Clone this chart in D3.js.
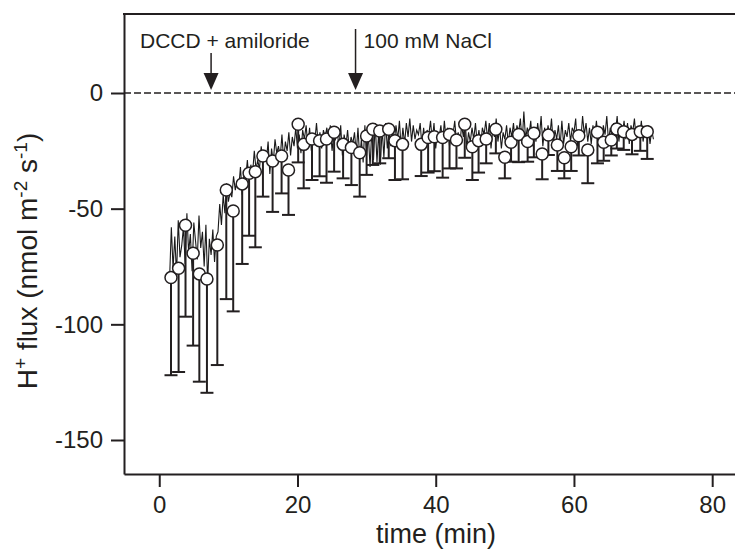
<!DOCTYPE html>
<html>
<head>
<meta charset="utf-8">
<script src="https://cdn.jsdelivr.net/npm/d3@7"></script>
<style>
  body { margin: 0; background: #fff; }
  text { font-family: "Liberation Sans", Arial, sans-serif; fill: #231f20; }
</style>
</head>
<body>
<svg id="chart" width="735" height="552"></svg>
<script>
// mean H+ flux (circles) with lower error bars
var sampleTime = [1.7, 2.8, 3.8, 4.9, 5.8, 6.9, 8.4, 9.7, 10.7, 12.0,
    13.0, 13.9, 15.0, 16.4, 17.7, 18.7, 20.1, 20.9, 22.1, 23.2,
    24.2, 25.3, 26.6, 27.8, 29.0, 30.0, 30.9, 31.9, 33.2, 34.1,
    35.2, 37.9, 38.9, 39.8, 41.0, 42.0, 43.0, 44.2, 45.3, 46.2,
    47.3, 48.7, 50.0, 50.9, 52.0, 53.3, 54.2, 55.4, 56.3, 57.6,
    58.6, 59.6, 60.7, 62.0, 63.4, 64.3, 65.4, 66.2, 67.2, 68.4,
    69.6, 70.6];
var meanFlux = [-79.8, -75.8, -57.2, -69.3, -78.2, -80.4, -65.7, -41.9, -51.0, -39.3,
    -34.7, -34.0, -27.2, -29.4, -27.2, -33.3, -13.5, -22.2, -19.9, -20.6,
    -19.9, -17.0, -22.2, -23.6, -25.8, -18.6, -15.7, -16.4, -15.7, -20.6,
    -22.2, -22.2, -19.2, -18.9, -19.2, -17.9, -20.3, -13.5, -23.2, -20.6,
    -19.9, -15.7, -27.8, -21.3, -17.9, -21.0, -17.4, -26.4, -18.2, -22.5,
    -28.0, -23.2, -18.5, -24.6, -17.0, -21.3, -20.3, -15.6, -16.7, -17.9,
    -16.7, -16.7];
var errFlux = [42.2, 44.8, 39.5, 39.9, 46.6, 49.2, 51.9, 47.2, 43.4, 34.6,
    27.0, 32.7, 17.6, 22.0, 16.2, 19.4, 16.5, 19.0, 17.7, 15.4,
    18.9, 17.0, 14.7, 16.2, 19.0, 16.8, 15.4, 14.0, 12.5, 17.0,
    15.1, 13.7, 15.2, 14.9, 17.4, 14.7, 12.3, 14.5, 14.4, 13.8,
    10.5, 10.4, 9.1, 8.4, 12.0, 8.7, 10.4, 10.9, 8.6, 11.2,
    8.9, 10.5, 8.5, 14.4, 13.4, 8.0, 6.7, 8.4, 7.9, 8.6,
    8.3, 11.8];

// continuous recording, one value every 0.25 min from 1.5 min
var traceStart = 1.5, traceStep = 0.25;
var traceFlux = [
    -80,-58,-76,-62, -79,-55,-71,-66, -58,-74,-52,-69, -61,-77,-56,-64,
    -72,-53,-67,-60, -75,-57,-82,-63, -70,-59,-73,-62, -60,-48,-57,-44,
    -52,-39,-47,-43, -45,-36,-42,-38, -41,-32,-44,-35, -37,-29,-39,-31,
    -35,-25,-33,-29, -33,-23,-30,-27, -29,-21,-35,-24, -30,-20,-26,-23,
    -28,-18,-29,-21, -25,-17,-27,-19, -23,-15,-24,-18, -26,-16,-20,-14,
    -23,-15,-25,-19, -21,-13,-22,-17, -24,-16,-19,-15, -22,-14,-25,-18,
    -20,-16,-24,-14, -27,-18,-23,-16, -25,-19,-22,-17, -26,-15,-28,-20,
    -30,-14,-27,-18, -32,-16,-29,-13, -30,-17,-31,-15, -28,-13,-24,-17,
    -23,-16,-21,-14, -20,-12,-24,-15, -22,-13,-19,-11, -21,-14,-20,-16,
    -18,-13,-23,-15, -22,-16,-18,-12, -21,-13,-24,-17, -19,-14,-22,-12,
    -20,-15,-23,-16, -18,-12,-21,-17, -22,-14,-19,-11, -24,-17,-21,-15,
    -20,-13,-22,-16, -23,-15,-18,-12, -20,-13,-24,-16, -19,-11,-21,-15,
    -24,-17,-20,-14, -22,-15,-19,-13, -21,-14,-17,-11, -22,-8,-20,-15,
    -18,-12,-23,-16, -21,-13,-19,-10, -23,-15,-20,-14, -19,-11,-22,-16,
    -20,-14,-23,-12, -22,-16,-19,-13, -21,-15,-17,-11, -23,-16,-20,-10,
    -18,-13,-21,-15, -22,-14,-19,-12, -20,-15,-23,-14, -18,-10,-21,-15,
    -19,-13,-17,-10, -21,-14,-18,-12, -20,-13,-22,-14, -17,-11,-20,-15,
    -19,-12,-21,-16, -18,-14,-22,-16, -20];

var xTicks = [0, 20, 40, 60, 80];
var yTicks = [0, -50, -100, -150];
var events = [ { t: 7.5, label: "DCCD + amiloride", side: "left" },
               { t: 28.4, label: "100 mM NaCl", side: "right" } ];

window.addEventListener( "load", makeChart );
function makeChart() {
    var svg = d3.select( "#chart" );
    var ink = "#231f20";

    var x = d3.scaleLinear().domain( [-5.1, 83.3] ).range( [124, 735] );
    var y = d3.scaleLinear().domain( [-164.7, 34.15] ).range( [474, 14] );

    // axes (plain hyphen for negatives, as in the figure)
    var ax = svg.append( "g" ).attr( "transform", "translate(0,474)" )
        .call( d3.axisBottom( x ).tickValues( xTicks ).tickFormat( d=>String(d) )
            .tickSize( 13 ).tickSizeOuter( 0 ).tickPadding( 9 ) );
    var ay = svg.append( "g" ).attr( "transform", "translate(124,0)" )
        .call( d3.axisLeft( y ).tickValues( yTicks ).tickFormat( d=>String(d) )
            .tickSize( 13 ).tickSizeOuter( 0 ).tickPadding( 8 ) );
    [ax, ay].forEach( function(a) {
        a.select( ".domain" ).attr( "stroke", ink ).attr( "stroke-width", 2 );
        a.selectAll( ".tick line" ).attr( "stroke", ink ).attr( "stroke-width", 2 );
        a.selectAll( ".tick text" ).attr( "font-size", 24 ).attr( "fill", ink )
            .style( "font-family", "'Liberation Sans', Arial, sans-serif" );
    } );
    svg.append( "line" ).attr( "x1", 123 ).attr( "x2", 735 )
        .attr( "y1", 14 ).attr( "y2", 14 )
        .attr( "stroke", ink ).attr( "stroke-width", 2 );

    // zero line
    svg.append( "line" ).attr( "x1", 124 ).attr( "x2", 735 )
        .attr( "y1", y(0) ).attr( "y2", y(0) )
        .attr( "stroke", ink ).attr( "stroke-width", 1.3 )
        .attr( "stroke-dasharray", "7,3" );

    // axis titles
    svg.append( "text" ).attr( "x", 436 ).attr( "y", 543 )
        .attr( "text-anchor", "middle" ).attr( "font-size", 27 )
        .text( "time (min)" );

    var yt = svg.append( "text" )
        .attr( "transform", "translate(37,261) rotate(-90)" )
        .attr( "text-anchor", "middle" ).attr( "font-size", 28 );
    yt.append( "tspan" ).text( "H" );
    yt.append( "tspan" ).attr( "dy", -10 ).attr( "font-size", 19 ).text( "+" );
    yt.append( "tspan" ).attr( "dy", 10 ).text( " flux (nmol m" );
    yt.append( "tspan" ).attr( "dy", -10 ).attr( "font-size", 19 ).text( "-2" );
    yt.append( "tspan" ).attr( "dy", 10 ).text( " s" );
    yt.append( "tspan" ).attr( "dy", -10 ).attr( "font-size", 19 ).text( "-1" );
    yt.append( "tspan" ).attr( "dy", 10 ).text( ")" );

    // event arrows
    var ev = svg.selectAll( "g.ev" ).data( events ).enter().append( "g" ).attr( "class", "ev" );
    ev.append( "line" )
        .attr( "x1", d=>x(d.t) ).attr( "x2", d=>x(d.t) )
        .attr( "y1", d=>d.side=="left" ? 53 : 29 ).attr( "y2", 78 )
        .attr( "stroke", ink ).attr( "stroke-width", 1.5 );
    ev.append( "path" )
        .attr( "d", d=>"M"+(x(d.t)-7.5)+",73L"+(x(d.t)+7.5)+",73L"+x(d.t)+","+(y(0)-3)+"Z" )
        .attr( "fill", ink );
    ev.append( "text" )
        .attr( "x", d=>d.side=="left" ? 140 : x(d.t)+8 ).attr( "y", 48 )
        .attr( "font-size", 21 )
        .text( d=>d.label );

    // raw trace
    var trace = traceFlux.map( (v,i) => [traceStart + i*traceStep, v] );
    svg.append( "path" ).datum( trace )
        .attr( "d", d3.line().x( d=>x(d[0]) ).y( d=>y(d[1]) ) )
        .attr( "fill", "none" ).attr( "stroke", "#1a1a1a" ).attr( "stroke-width", 1.1 );

    var pts = sampleTime.map( (t,i) => ({ t: t, m: meanFlux[i], e: errFlux[i] }) );

    // lower error bars
    var eb = svg.append( "g" ).attr( "stroke", ink ).attr( "stroke-width", 2 );
    eb.selectAll( "line.stem" ).data( pts ).enter().append( "line" )
        .attr( "x1", d=>x(d.t) ).attr( "x2", d=>x(d.t) )
        .attr( "y1", d=>y(d.m) ).attr( "y2", d=>y(d.m-d.e) );
    eb.selectAll( "line.cap" ).data( pts ).enter().append( "line" )
        .attr( "x1", d=>x(d.t)-6.5 ).attr( "x2", d=>x(d.t)+6.5 )
        .attr( "y1", d=>y(d.m-d.e) ).attr( "y2", d=>y(d.m-d.e) );

    // mean circles
    svg.append( "g" ).selectAll( "circle" ).data( pts ).enter()
        .append( "circle" ).attr( "r", 6 )
        .attr( "cx", d=>x(d.t) ).attr( "cy", d=>y(d.m) )
        .attr( "fill", "#fff" ).attr( "stroke", ink ).attr( "stroke-width", 1.5 );
}
</script>
</body>
</html>
